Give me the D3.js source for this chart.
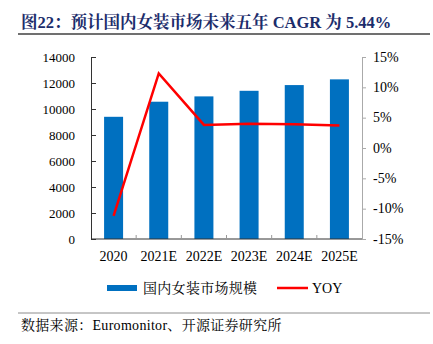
<!DOCTYPE html>
<html><head><meta charset="utf-8">
<script src="https://cdn.jsdelivr.net/npm/d3@7"></script>
<style>
html,body{margin:0;padding:0;background:#fff;}
svg{display:block;}
</style></head>
<body>
<svg id="c" width="433" height="344"></svg>
<script>
const categories = ["2020","2021E","2022E","2023E","2024E","2025E"];
const marketSize = [9400, 10560, 10970, 11400, 11840, 12280];
const yoy = [-11.2, 12.3, 3.8, 4.0, 3.9, 3.7];
const leftTicks = [0,2000,4000,6000,8000,10000,12000,14000];
const rightTicks = [-15,-10,-5,0,5,10,15];
const titleText = "图22：预计国内女装市场未来五年 CAGR 为 5.44%";
const legendLabels = ["国内女装市场规模","YOY"];
const sourceText = "数据来源：Euromonitor、开源证券研究所";

const svg = d3.select("#c");
const FONT = "'Liberation Serif','Times New Roman','Noto Serif CJK SC','Noto Sans CJK SC',serif";
const L = 91, R = 362, T = 57, B = 239;

// title
svg.append("text").attr("x",21).attr("y",28).attr("font-family",FONT)
  .attr("font-size",16.5).attr("font-weight","bold").attr("fill","#1c2d6b").text(titleText);
svg.append("line").attr("x1",18).attr("x2",430).attr("y1",34).attr("y2",34)
  .attr("stroke","#404040").attr("stroke-width",1.5);

const xPts = d3.scaleBand().domain(categories).range([L,R]);
const yL = d3.scaleLinear().domain([0,14000]).range([B,T]);
const yR = d3.scaleLinear().domain([-15,15]).range([B,T]);

// bars
svg.append("g").selectAll("rect").data(marketSize).join("rect")
  .attr("x",(d,i)=>xPts(categories[i]) + xPts.bandwidth()/2 - 9.5)
  .attr("width",19)
  .attr("y",d=>yL(d)).attr("height",d=>B-yL(d))
  .attr("fill","#0070c0");

// left axis
const gl = svg.append("g").attr("transform",`translate(${L},0)`)
  .call(d3.axisRight(yL).tickValues(leftTicks).tickSize(5).tickFormat(""));
gl.selectAll("path,line").attr("stroke","#333");
svg.append("g").selectAll("text").data(leftTicks).join("text")
  .attr("x",75).attr("y",d=>yL(d)+4.5).attr("text-anchor","end")
  .attr("font-family",FONT).attr("font-size",13).attr("fill","#000").text(d=>d);

// right axis
const gr = svg.append("g").attr("transform",`translate(${R},0)`)
  .call(d3.axisRight(yR).tickValues(rightTicks).tickSize(4).tickFormat(""));
gr.selectAll("path,line").attr("stroke","#aaa");
svg.append("g").selectAll("text").data(rightTicks).join("text")
  .attr("x",373).attr("y",d=>yR(d)+4.5).attr("text-anchor","start")
  .attr("font-family",FONT).attr("font-size",14).attr("fill","#000").text(d=>d+"%");

// bottom axis
svg.append("line").attr("x1",L).attr("x2",R).attr("y1",B).attr("y2",B).attr("stroke","#333").attr("stroke-width",1);
svg.append("g").selectAll("line").data(categories.slice(1)).join("line")
  .attr("x1",d=>xPts(d)).attr("x2",d=>xPts(d)).attr("y1",B).attr("y2",B-4)
  .attr("stroke","#999");
svg.append("g").selectAll("text").data(categories).join("text")
  .attr("x",d=>xPts(d)+xPts.bandwidth()/2).attr("y",261).attr("text-anchor","middle")
  .attr("font-family",FONT).attr("font-size",14).attr("fill","#000").text(d=>d);

// line
const line = d3.line().x((d,i)=>xPts(categories[i])+xPts.bandwidth()/2).y(d=>yR(d));
svg.append("path").datum(yoy).attr("d",line).attr("fill","none")
  .attr("stroke","#ff0000").attr("stroke-width",2.5).attr("stroke-linejoin","miter");

// legend
svg.append("rect").attr("x",107).attr("y",285).attr("width",30).attr("height",6).attr("fill","#0070c0");
svg.append("text").attr("x",143).attr("y",293).attr("font-family",FONT).attr("font-size",14)
  .attr("letter-spacing",0.3).attr("fill","#000").text(legendLabels[0]);
svg.append("line").attr("x1",277).attr("x2",308).attr("y1",288).attr("y2",288)
  .attr("stroke","#ff0000").attr("stroke-width",2.5);
svg.append("text").attr("x",312).attr("y",293).attr("font-family",FONT).attr("font-size",14)
  .attr("fill","#000").text(legendLabels[1]);

// footer
svg.append("line").attr("x1",18).attr("x2",430).attr("y1",313).attr("y2",313)
  .attr("stroke","#8c8c8c").attr("stroke-width",1);
svg.append("text").attr("x",21).attr("y",330).attr("font-family",FONT).attr("font-size",14)
  .attr("letter-spacing",0.3).attr("fill","#000").text(sourceText);
</script>
</body></html>
